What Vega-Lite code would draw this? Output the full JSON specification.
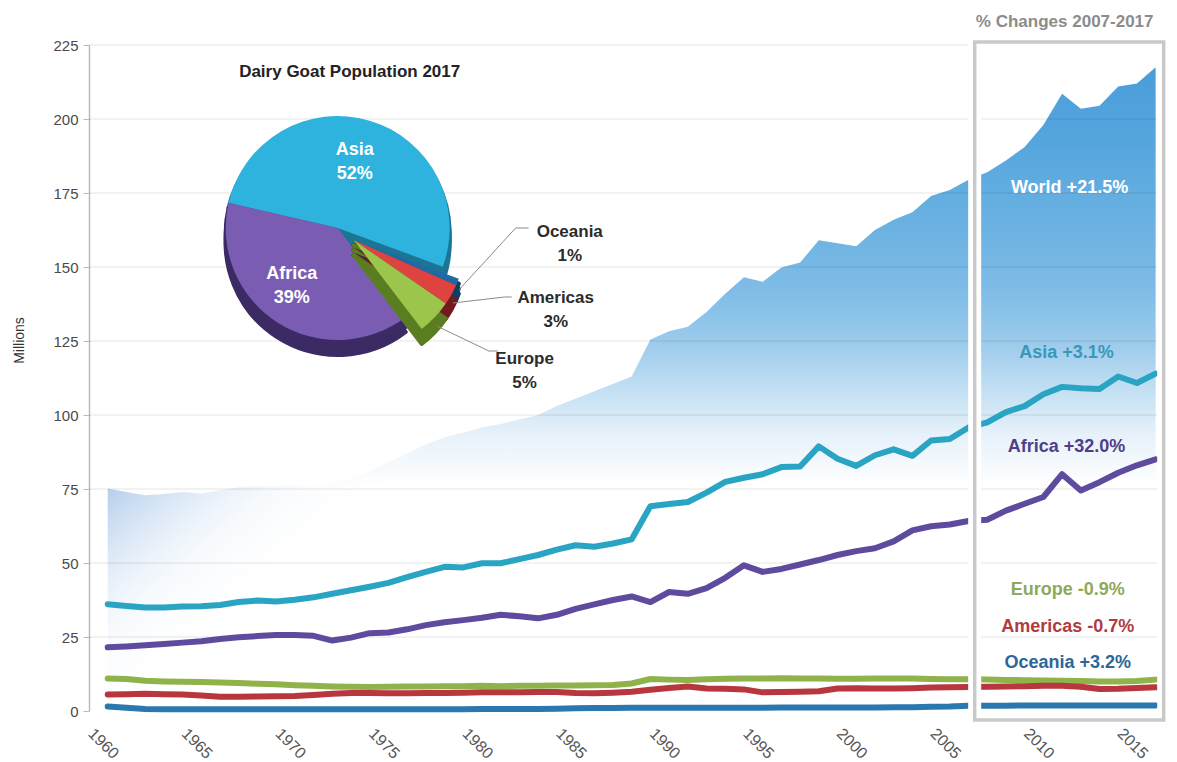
{
  "$schema": "https://vega.github.io/schema/vega-lite/v6.json",
  "width": 1076,
  "height": 666,
  "autosize": {"type": "none"},
  "padding": {"left": 89, "top": 45, "right": 12, "bottom": 51},
  "background": "white",
  "config": {"view": {"stroke": null}, "font": "Liberation Sans"},
  "datasets": {
    "goats": [
      {"year":1961,"World":75.2,"Asia":36.1,"Africa":21.5,"Europe":11.0,"Americas":5.6,"Oceania":1.5},
      {"year":1962,"World":74.0,"Asia":35.5,"Africa":21.8,"Europe":10.8,"Americas":5.7,"Oceania":1.1},
      {"year":1963,"World":72.9,"Asia":35.0,"Africa":22.2,"Europe":10.2,"Americas":5.8,"Oceania":0.7},
      {"year":1964,"World":73.3,"Asia":35.0,"Africa":22.6,"Europe":10.0,"Americas":5.7,"Oceania":0.6},
      {"year":1965,"World":74.0,"Asia":35.3,"Africa":23.1,"Europe":9.9,"Americas":5.6,"Oceania":0.6},
      {"year":1966,"World":73.5,"Asia":35.4,"Africa":23.6,"Europe":9.8,"Americas":5.2,"Oceania":0.6},
      {"year":1967,"World":74.6,"Asia":35.8,"Africa":24.3,"Europe":9.6,"Americas":4.8,"Oceania":0.6},
      {"year":1968,"World":75.6,"Asia":36.8,"Africa":24.9,"Europe":9.5,"Americas":4.8,"Oceania":0.6},
      {"year":1969,"World":76.0,"Asia":37.3,"Africa":25.3,"Europe":9.2,"Americas":4.9,"Oceania":0.6},
      {"year":1970,"World":76.0,"Asia":37.0,"Africa":25.7,"Europe":9.0,"Americas":5.0,"Oceania":0.6},
      {"year":1971,"World":76.2,"Asia":37.6,"Africa":25.7,"Europe":8.7,"Americas":5.1,"Oceania":0.6},
      {"year":1972,"World":76.3,"Asia":38.4,"Africa":25.4,"Europe":8.5,"Americas":5.4,"Oceania":0.6},
      {"year":1973,"World":77.0,"Asia":39.6,"Africa":23.8,"Europe":8.3,"Americas":5.8,"Oceania":0.6},
      {"year":1974,"World":78.5,"Asia":40.8,"Africa":24.8,"Europe":8.2,"Americas":6.1,"Oceania":0.6},
      {"year":1975,"World":81.0,"Asia":42.0,"Africa":26.3,"Europe":8.1,"Americas":6.1,"Oceania":0.6},
      {"year":1976,"World":84.0,"Asia":43.3,"Africa":26.5,"Europe":8.2,"Americas":6.0,"Oceania":0.6},
      {"year":1977,"World":87.0,"Asia":45.2,"Africa":27.6,"Europe":8.3,"Americas":6.0,"Oceania":0.6},
      {"year":1978,"World":90.0,"Asia":47.0,"Africa":29.0,"Europe":8.3,"Americas":6.1,"Oceania":0.6},
      {"year":1979,"World":92.5,"Asia":48.7,"Africa":30.0,"Europe":8.4,"Americas":6.1,"Oceania":0.6},
      {"year":1980,"World":94.0,"Asia":48.5,"Africa":30.7,"Europe":8.4,"Americas":6.2,"Oceania":0.6},
      {"year":1981,"World":95.8,"Asia":49.9,"Africa":31.5,"Europe":8.5,"Americas":6.3,"Oceania":0.7},
      {"year":1982,"World":97.0,"Asia":49.9,"Africa":32.5,"Europe":8.4,"Americas":6.3,"Oceania":0.7},
      {"year":1983,"World":98.5,"Asia":51.3,"Africa":32.0,"Europe":8.5,"Americas":6.3,"Oceania":0.7},
      {"year":1984,"World":100.0,"Asia":52.7,"Africa":31.3,"Europe":8.5,"Americas":6.4,"Oceania":0.7},
      {"year":1985,"World":103.0,"Asia":54.5,"Africa":32.5,"Europe":8.6,"Americas":6.4,"Oceania":0.8},
      {"year":1986,"World":105.5,"Asia":56.0,"Africa":34.5,"Europe":8.6,"Americas":6.1,"Oceania":0.9},
      {"year":1987,"World":108.0,"Asia":55.5,"Africa":36.0,"Europe":8.7,"Americas":6.0,"Oceania":1.0},
      {"year":1988,"World":110.5,"Asia":56.6,"Africa":37.5,"Europe":8.8,"Americas":6.2,"Oceania":1.0},
      {"year":1989,"World":113.0,"Asia":58.0,"Africa":38.7,"Europe":9.3,"Americas":6.5,"Oceania":1.1},
      {"year":1990,"World":125.5,"Asia":69.2,"Africa":36.8,"Europe":10.8,"Americas":7.2,"Oceania":1.1},
      {"year":1991,"World":128.3,"Asia":69.9,"Africa":40.2,"Europe":10.6,"Americas":7.8,"Oceania":1.1},
      {"year":1992,"World":129.8,"Asia":70.6,"Africa":39.6,"Europe":10.5,"Americas":8.3,"Oceania":1.1},
      {"year":1993,"World":134.8,"Asia":73.8,"Africa":41.5,"Europe":10.7,"Americas":7.6,"Oceania":1.1},
      {"year":1994,"World":141.0,"Asia":77.4,"Africa":45.0,"Europe":10.9,"Americas":7.5,"Oceania":1.1},
      {"year":1995,"World":146.5,"Asia":78.8,"Africa":49.2,"Europe":11.0,"Americas":7.3,"Oceania":1.1},
      {"year":1996,"World":145.0,"Asia":80.0,"Africa":47.0,"Europe":11.0,"Americas":6.3,"Oceania":1.1},
      {"year":1997,"World":149.8,"Asia":82.4,"Africa":48.0,"Europe":11.1,"Americas":6.4,"Oceania":1.2},
      {"year":1998,"World":151.5,"Asia":82.6,"Africa":49.5,"Europe":11.0,"Americas":6.5,"Oceania":1.2},
      {"year":1999,"World":159.0,"Asia":89.4,"Africa":51.0,"Europe":11.0,"Americas":6.7,"Oceania":1.2},
      {"year":2000,"World":158.0,"Asia":85.2,"Africa":52.7,"Europe":10.9,"Americas":7.6,"Oceania":1.2},
      {"year":2001,"World":157.0,"Asia":82.8,"Africa":54.0,"Europe":10.9,"Americas":7.7,"Oceania":1.2},
      {"year":2002,"World":162.5,"Asia":86.4,"Africa":55.0,"Europe":11.0,"Americas":7.6,"Oceania":1.2},
      {"year":2003,"World":166.0,"Asia":88.4,"Africa":57.3,"Europe":11.0,"Americas":7.6,"Oceania":1.3},
      {"year":2004,"World":168.5,"Asia":86.2,"Africa":61.0,"Europe":11.0,"Americas":7.7,"Oceania":1.3},
      {"year":2005,"World":174.0,"Asia":91.4,"Africa":62.4,"Europe":10.8,"Americas":7.9,"Oceania":1.4},
      {"year":2006,"World":176.0,"Asia":91.9,"Africa":63.0,"Europe":10.7,"Americas":8.0,"Oceania":1.5},
      {"year":2007,"World":179.5,"Asia":95.8,"Africa":64.2,"Europe":10.7,"Americas":8.1,"Oceania":1.8},
      {"year":2008,"World":182.0,"Asia":97.5,"Africa":64.6,"Europe":10.6,"Americas":8.2,"Oceania":1.8},
      {"year":2009,"World":186.0,"Asia":101.0,"Africa":67.7,"Europe":10.5,"Americas":8.3,"Oceania":1.8},
      {"year":2010,"World":190.5,"Asia":103.0,"Africa":70.0,"Europe":10.4,"Americas":8.4,"Oceania":1.9},
      {"year":2011,"World":198.0,"Asia":107.0,"Africa":72.3,"Europe":10.3,"Americas":8.5,"Oceania":1.9},
      {"year":2012,"World":208.5,"Asia":109.5,"Africa":80.0,"Europe":10.2,"Americas":8.5,"Oceania":1.9},
      {"year":2013,"World":203.5,"Asia":109.0,"Africa":74.5,"Europe":10.1,"Americas":8.2,"Oceania":1.9},
      {"year":2014,"World":204.5,"Asia":108.8,"Africa":77.3,"Europe":10.0,"Americas":7.4,"Oceania":1.9},
      {"year":2015,"World":211.0,"Asia":113.0,"Africa":80.5,"Europe":10.0,"Americas":7.5,"Oceania":1.9},
      {"year":2016,"World":212.0,"Asia":110.8,"Africa":83.0,"Europe":10.1,"Americas":7.8,"Oceania":1.9},
      {"year":2017,"World":217.5,"Asia":114.0,"Africa":85.0,"Europe":10.6,"Americas":8.0,"Oceania":1.9}
    ],
    "pie": [
      {"region":"Asia","pct":52,"ord":1},
      {"region":"Oceania","pct":1,"ord":2},
      {"region":"Americas","pct":3,"ord":3},
      {"region":"Europe","pct":5,"ord":4},
      {"region":"Africa","pct":39,"ord":5}
    ],
    "notes": [
      {"text":"World +21.5%","grp":"box","region":"World","year":2012.4,"value":176.7},
      {"text":"Asia +3.1%","grp":"box","region":"Asia","year":2012.24,"value":121.0},
      {"text":"Africa +32.0%","grp":"box","region":"Africa","year":2012.24,"value":89.2},
      {"text":"Europe -0.9%","grp":"box","region":"Europe","year":2012.3,"value":40.9},
      {"text":"Americas -0.7%","grp":"box","region":"Americas","year":2012.3,"value":28.4},
      {"text":"Oceania +3.2%","grp":"box","region":"Oceania","year":2012.3,"value":16.2},
      {"text":"% Changes 2007-2017","grp":"head","region":"none","year":2012.14,"value":232.8},
      {"text":"Dairy Goat Population 2017","grp":"title","region":"none","year":1973.93,"value":215.9},
      {"text":"Asia\n52%","grp":"inner","region":"Asia","year":1974.2,"value":189.4},
      {"text":"Africa\n39%","grp":"inner","region":"Africa","year":1970.83,"value":147.5},
      {"text":"Oceania\n1%","grp":"outer","region":"Oceania","year":1985.69,"value":161.8},
      {"text":"Americas\n3%","grp":"outer","region":"Americas","year":1984.94,"value":139.5},
      {"text":"Europe\n5%","grp":"outer","region":"Europe","year":1983.28,"value":118.9}
    ],
    "leaders": [
      {"lead":"Oceania","i":1,"year":1979.76,"value":142.23},
      {"lead":"Oceania","i":2,"year":1982.8,"value":163.18},
      {"lead":"Oceania","i":3,"year":1983.49,"value":163.18},
      {"lead":"Americas","i":1,"year":1979.44,"value":137.84},
      {"lead":"Americas","i":2,"year":1982.21,"value":139.86},
      {"lead":"Americas","i":3,"year":1982.59,"value":139.86},
      {"lead":"Europe","i":1,"year":1978.58,"value":130.07},
      {"lead":"Europe","i":2,"year":1981.37,"value":121.62},
      {"lead":"Europe","i":3,"year":1981.85,"value":121.62}
    ],
    "grid": [{"g":25},{"g":50},{"g":75},{"g":100},{"g":125},{"g":150},{"g":175},{"g":200},{"g":225}]
  },
  "layer": [
    {
      "data": {"name": "goats"},
      "mark": {"type": "area", "fill": {"gradient": "linear", "x1": 0, "y1": 0, "x2": 0, "y2": 1, "stops": [
        {"offset": 0, "color": "#4a9ddb"},
        {"offset": 0.12, "color": "#56a6de"},
        {"offset": 0.25, "color": "#6bb2e2"},
        {"offset": 0.35, "color": "#80bde7"},
        {"offset": 0.43, "color": "#9dcbec"},
        {"offset": 0.5, "color": "#c2dff3"},
        {"offset": 0.57, "color": "#e6f1fa"},
        {"offset": 0.65, "color": "#ffffff"},
        {"offset": 1, "color": "#ffffff"}]}},
      "encoding": {
        "x": {"field": "year", "type": "quantitative", "scale": {"domain": [1960, 2017.5], "nice": false, "zero": false},
          "axis": {"values": [1960,1965,1970,1975,1980,1985,1990,1995,2000,2005,2010,2015], "format": "d", "title": null,
            "labelAngle": 45, "labelAlign": "left", "labelBaseline": "top", "labelPadding": 14, "labelOffset": 7,
            "labelFontSize": 16, "labelColor": "#555", "labelFont": "Liberation Sans", "ticks": false, "domain": false, "grid": false,
            "labelOverlap": false, "labelFlush": false, "labelBound": false}},
        "y": {"field": "World", "type": "quantitative", "scale": {"domain": [0, 225], "nice": false},
          "axis": {"values": [0,25,50,75,100,125,150,175,200,225], "title": "Millions", "titleFontSize": 14, "titleFontWeight": "normal",
            "titleColor": "#333", "titleFont": "Liberation Sans", "titleX": -70, "titleY": 295, "titleAngle": -90, "titleAlign": "center", "titleBaseline": "middle",
            "labelFontSize": 15, "labelColor": "#4a4a4a", "labelFont": "Liberation Sans", "labelPadding": 5, "tickSize": 6, "tickColor": "#bbbbbb",
            "domainColor": "#bbbbbb", "domainWidth": 1.5, "grid": false}}
      }
    },
    {
      "data": {"name": "goats"},
      "transform": [{"filter": "datum.year <= 1977"}],
      "mark": {"type": "area", "fill": {"gradient": "linear", "x1": 0, "y1": 0.1, "x2": 0.5, "y2": 0.6, "stops": [
        {"offset": 0, "color": "rgba(176,203,234,1)"},
        {"offset": 0.3, "color": "rgba(210,226,244,0.8)"},
        {"offset": 0.6, "color": "rgba(235,242,250,0.4)"},
        {"offset": 1, "color": "rgba(255,255,255,0)"}]}},
      "encoding": {
        "x": {"field": "year", "type": "quantitative", "scale": {"domain": [1960, 2017.5], "nice": false, "zero": false}},
        "y": {"field": "World", "type": "quantitative", "scale": {"domain": [0, 225], "nice": false}}
      }
    },
    {
      "data": {"name": "grid"},
      "mark": {"type": "rule", "stroke": "#000000", "strokeOpacity": 0.1, "strokeWidth": 1.2},
      "encoding": {
        "y": {"field": "g", "type": "quantitative", "scale": {"domain": [0, 225], "nice": false}}
      }
    },
    {
      "data": {"name": "goats"},
      "transform": [{"fold": ["Europe", "Americas", "Oceania", "Africa", "Asia"], "as": ["region", "value"]}],
      "mark": {"type": "line", "strokeWidth": 6, "strokeJoin": "round", "strokeCap": "round"},
      "encoding": {
        "x": {"field": "year", "type": "quantitative", "scale": {"domain": [1960, 2017.5], "nice": false, "zero": false}},
        "y": {"field": "value", "type": "quantitative", "scale": {"domain": [0, 225], "nice": false}},
        "color": {"field": "region", "type": "nominal", "legend": null,
          "scale": {"domain": ["Asia", "Africa", "Europe", "Americas", "Oceania"], "range": ["#2aa4c3", "#5f4b9e", "#8fb24b", "#b8363d", "#2b78b1"]}}
      }
    },
    {
      "data": {"values": [{}]},
      "mark": {"type": "rect", "filled": false, "stroke": "#ffffff", "strokeWidth": 13},
      "encoding": {
        "x": {"datum": 2007.33, "type": "quantitative", "scale": {"domain": [1960, 2017.5], "nice": false, "zero": false}},
        "x2": {"datum": 2017.43},
        "y": {"datum": -3.0, "type": "quantitative", "scale": {"domain": [0, 225], "nice": false}},
        "y2": {"datum": 226}
      }
    },
    {
      "data": {"values": [{}]},
      "mark": {"type": "rect", "filled": false, "stroke": "#c9c9c9", "strokeWidth": 3.5},
      "encoding": {
        "x": {"datum": 2007.33, "type": "quantitative", "scale": {"domain": [1960, 2017.5], "nice": false, "zero": false}},
        "x2": {"datum": 2017.43},
        "y": {"datum": -3.0, "type": "quantitative", "scale": {"domain": [0, 225], "nice": false}},
        "y2": {"datum": 226}
      }
    },
    {
      "data": {"name": "notes"},
      "transform": [{"filter": "datum.grp == 'box'"}],
      "mark": {"type": "text", "fontSize": 18, "fontWeight": "bold", "font": "Liberation Sans", "align": "center", "baseline": "middle"},
      "encoding": {
        "x": {"field": "year", "type": "quantitative", "scale": {"domain": [1960, 2017.5], "nice": false, "zero": false}},
        "y": {"field": "value", "type": "quantitative", "scale": {"domain": [0, 225], "nice": false}},
        "text": {"field": "text"},
        "color": {"field": "region", "type": "nominal", "legend": null,
          "scale": {"domain": ["World", "Asia", "Africa", "Europe", "Americas", "Oceania"], "range": ["#ffffff", "#3799b9", "#4f3f87", "#8ea95a", "#b13b41", "#2e6697"]}}
      }
    },
    {
      "data": {"name": "notes"},
      "transform": [{"filter": "datum.grp == 'head'"}],
      "mark": {"type": "text", "fontSize": 17, "fontWeight": "bold", "font": "Liberation Sans", "align": "center", "baseline": "middle", "color": "#8c8c8c"},
      "encoding": {
        "x": {"field": "year", "type": "quantitative", "scale": {"domain": [1960, 2017.5], "nice": false, "zero": false}},
        "y": {"field": "value", "type": "quantitative", "scale": {"domain": [0, 225], "nice": false}},
        "text": {"field": "text"}
      }
    },
    {
      "data": {"name": "pie"},
      "transform": [{"stack": "pct", "groupby": [], "sort": [{"field": "ord", "order": "ascending"}], "as": ["p0", "p1"]}, {"filter": {"field": "region", "oneOf": ["Asia", "Africa"]}}],
      "layer": [
        {"mark": {"type": "arc", "radius": 112, "yOffset": 5, "strokeWidth": 4, "strokeJoin": "round"}},
        {"mark": {"type": "arc", "radius": 112, "yOffset": 10, "strokeWidth": 4, "strokeJoin": "round"}},
        {"mark": {"type": "arc", "radius": 112, "yOffset": 15, "strokeWidth": 4, "strokeJoin": "round"}}
      ],
      "encoding": {
        "x": {"datum": 1973.29, "type": "quantitative", "scale": {"domain": [1960, 2017.5], "nice": false, "zero": false}},
        "y": {"datum": 163.18, "type": "quantitative", "scale": {"domain": [0, 225], "nice": false}},
        "theta": {"field": "p0", "type": "quantitative", "scale": {"domain": [0, 100], "range": [-1.344, 4.939]}},
        "theta2": {"field": "p1"},
        "color": {"field": "region", "type": "nominal", "legend": null, "scale": {"domain": ["Asia", "Oceania", "Americas", "Europe", "Africa"], "range": ["#1c7593", "#113d62", "#731a20", "#5a7d22", "#3b2a63"]}},
        "stroke": {"field": "region", "type": "nominal", "legend": null, "scale": {"domain": ["Asia", "Oceania", "Americas", "Europe", "Africa"], "range": ["#1c7593", "#113d62", "#731a20", "#5a7d22", "#3b2a63"]}}
      }
    },
    {
      "data": {"name": "pie"},
      "transform": [{"stack": "pct", "groupby": [], "sort": [{"field": "ord", "order": "ascending"}], "as": ["p0", "p1"]}, {"filter": {"field": "region", "oneOf": ["Asia", "Africa"]}}],
      "mark": {"type": "arc", "radius": 112},
      "encoding": {
        "x": {"datum": 1973.29, "type": "quantitative", "scale": {"domain": [1960, 2017.5], "nice": false, "zero": false}},
        "y": {"datum": 163.18, "type": "quantitative", "scale": {"domain": [0, 225], "nice": false}},
        "theta": {"field": "p0", "type": "quantitative", "scale": {"domain": [0, 100], "range": [-1.344, 4.939]}},
        "theta2": {"field": "p1"},
        "color": {"field": "region", "type": "nominal", "legend": null, "scale": {"domain": ["Asia", "Oceania", "Americas", "Europe", "Africa"], "range": ["#2db3dd", "#1f69a6", "#de4340", "#9cc64b", "#7a5db3"]}}
      }
    },
    {
      "data": {"name": "pie"},
      "transform": [{"stack": "pct", "groupby": [], "sort": [{"field": "ord", "order": "ascending"}], "as": ["p0", "p1"]}, {"filter": {"field": "region", "oneOf": ["Oceania", "Americas", "Europe"]}}],
      "layer": [
        {"mark": {"type": "arc", "radius": 112, "xOffset": 16, "yOffset": 17, "strokeWidth": 4, "strokeJoin": "round"}},
        {"mark": {"type": "arc", "radius": 112, "xOffset": 16, "yOffset": 22, "strokeWidth": 4, "strokeJoin": "round"}},
        {"mark": {"type": "arc", "radius": 112, "xOffset": 16, "yOffset": 27, "strokeWidth": 4, "strokeJoin": "round"}}
      ],
      "encoding": {
        "x": {"datum": 1973.29, "type": "quantitative", "scale": {"domain": [1960, 2017.5], "nice": false, "zero": false}},
        "y": {"datum": 163.18, "type": "quantitative", "scale": {"domain": [0, 225], "nice": false}},
        "theta": {"field": "p0", "type": "quantitative", "scale": {"domain": [0, 100], "range": [-1.344, 4.939]}},
        "theta2": {"field": "p1"},
        "color": {"field": "region", "type": "nominal", "legend": null, "scale": {"domain": ["Asia", "Oceania", "Americas", "Europe", "Africa"], "range": ["#1c7593", "#113d62", "#731a20", "#5a7d22", "#3b2a63"]}},
        "stroke": {"field": "region", "type": "nominal", "legend": null, "scale": {"domain": ["Asia", "Oceania", "Americas", "Europe", "Africa"], "range": ["#1c7593", "#113d62", "#731a20", "#5a7d22", "#3b2a63"]}}
      }
    },
    {
      "data": {"name": "pie"},
      "transform": [{"stack": "pct", "groupby": [], "sort": [{"field": "ord", "order": "ascending"}], "as": ["p0", "p1"]}, {"filter": {"field": "region", "oneOf": ["Oceania", "Americas", "Europe"]}}],
      "mark": {"type": "arc", "radius": 112, "xOffset": 16, "yOffset": 12},
      "encoding": {
        "x": {"datum": 1973.29, "type": "quantitative", "scale": {"domain": [1960, 2017.5], "nice": false, "zero": false}},
        "y": {"datum": 163.18, "type": "quantitative", "scale": {"domain": [0, 225], "nice": false}},
        "theta": {"field": "p0", "type": "quantitative", "scale": {"domain": [0, 100], "range": [-1.344, 4.939]}},
        "theta2": {"field": "p1"},
        "color": {"field": "region", "type": "nominal", "legend": null, "scale": {"domain": ["Asia", "Oceania", "Americas", "Europe", "Africa"], "range": ["#2db3dd", "#1f69a6", "#de4340", "#9cc64b", "#7a5db3"]}}
      }
    },
    {
      "data": {"name": "leaders"},
      "mark": {"type": "line", "stroke": "#8a8a8a", "strokeWidth": 1},
      "encoding": {
        "x": {"field": "year", "type": "quantitative", "scale": {"domain": [1960, 2017.5], "nice": false, "zero": false}},
        "y": {"field": "value", "type": "quantitative", "scale": {"domain": [0, 225], "nice": false}},
        "detail": {"field": "lead"},
        "order": {"field": "i"}
      }
    },
    {
      "data": {"name": "notes"},
      "transform": [{"filter": "datum.grp == 'inner'"}],
      "mark": {"type": "text", "fontSize": 18, "fontWeight": "bold", "font": "Liberation Sans", "align": "center", "baseline": "middle", "lineBreak": "\n", "lineHeight": 24, "color": "#ffffff"},
      "encoding": {
        "x": {"field": "year", "type": "quantitative", "scale": {"domain": [1960, 2017.5], "nice": false, "zero": false}},
        "y": {"field": "value", "type": "quantitative", "scale": {"domain": [0, 225], "nice": false}},
        "text": {"field": "text"}
      }
    },
    {
      "data": {"name": "notes"},
      "transform": [{"filter": "datum.grp == 'outer'"}],
      "mark": {"type": "text", "fontSize": 17, "fontWeight": "bold", "font": "Liberation Sans", "align": "center", "baseline": "middle", "lineBreak": "\n", "lineHeight": 24, "color": "#2b2b2b"},
      "encoding": {
        "x": {"field": "year", "type": "quantitative", "scale": {"domain": [1960, 2017.5], "nice": false, "zero": false}},
        "y": {"field": "value", "type": "quantitative", "scale": {"domain": [0, 225], "nice": false}},
        "text": {"field": "text"}
      }
    },
    {
      "data": {"name": "notes"},
      "transform": [{"filter": "datum.grp == 'title'"}],
      "mark": {"type": "text", "fontSize": 17, "fontWeight": "bold", "font": "Liberation Sans", "align": "center", "baseline": "middle", "color": "#222222"},
      "encoding": {
        "x": {"field": "year", "type": "quantitative", "scale": {"domain": [1960, 2017.5], "nice": false, "zero": false}},
        "y": {"field": "value", "type": "quantitative", "scale": {"domain": [0, 225], "nice": false}},
        "text": {"field": "text"}
      }
    }
  ],
  "resolve": {"scale": {"color": "independent", "stroke": "independent"}}
}
